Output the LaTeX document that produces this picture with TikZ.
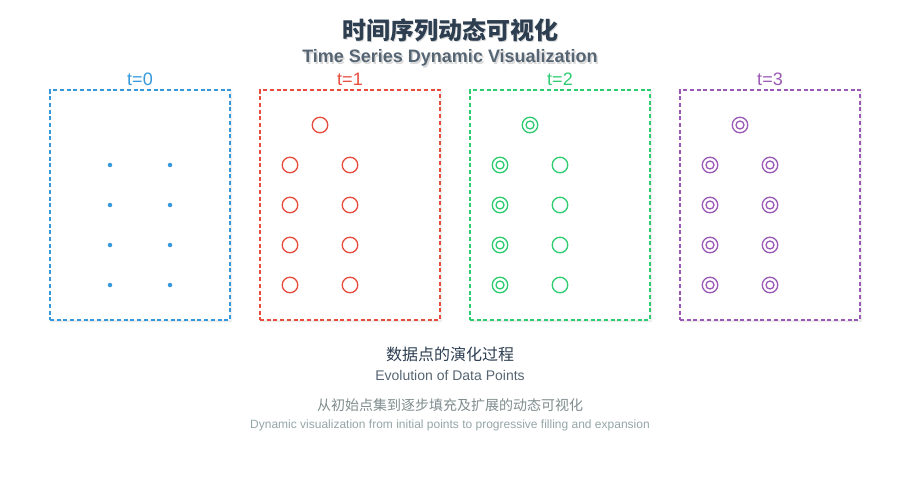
\documentclass[tikz,border=0pt]{standalone}
\usepackage{fontspec}
\setmainfont{Liberation Sans}
\newfontfamily\cjk{Noto Sans CJK SC}
\usetikzlibrary{shadows.blur}
\definecolor{tblue}{HTML}{3498DB}
\definecolor{tred}{HTML}{E74C3C}
\definecolor{tgreen}{HTML}{2ECC71}
\definecolor{tpurple}{HTML}{9B59B6}
\definecolor{ink}{HTML}{2C3E50}
\definecolor{subink}{HTML}{566573}
\definecolor{midgray}{HTML}{7F8C8D}
\definecolor{lightgray}{HTML}{95A5A6}
\begin{document}
\begin{tikzpicture}[x=1pt,y=1pt,
    dring/.style={ring,draw=#1,path picture={\draw[#1,line width=1.3pt] (path picture bounding box.center) circle (4pt);}}]
    \tikzstyle{every node}=[inner sep=0pt,outer sep=0pt];
    \tikzstyle{frame}=[draw,line width=2pt,dash pattern=on 4pt off 2.7pt,minimum width=180pt,minimum height=230pt,fill=white,blur shadow={shadow blur steps=6,shadow xshift=1pt,shadow yshift=-1pt,shadow opacity=12}];
    \tikzstyle{ring}=[draw,shape=circle,line width=1.3pt,minimum size=15.5pt];
    \tikzstyle{dot}=[fill=tblue,shape=circle,minimum size=4.5pt];
    \tikzstyle{tlabel}=[font=\fontsize{18}{18}\selectfont];
    \useasboundingbox (0,0) rectangle (900,-500);
    % title
    \node[text=black!15] at (451.5,-31.5) (titleshadow) {\cjk\bfseries\fontsize{24}{24}\selectfont 时间序列动态可视化};
    \node[text=ink] at (450,-30) (title) {\cjk\bfseries\fontsize{24}{24}\selectfont 时间序列动态可视化};
    \node[text=black!15] at (451.5,-59.5) (subshadow) {\bfseries\fontsize{18}{18}\selectfont Time Series Dynamic Visualization};
    \node[text=subink] at (450,-58) (subtitle) {\bfseries\fontsize{18}{18}\selectfont Time Series Dynamic Visualization};
    % frames
    \node[frame,draw=tblue] at (140,-205) (f0) {};
    \node[frame,draw=tred] at (350,-205) (f1) {};
    \node[frame,draw=tgreen] at (560,-205) (f2) {};
    \node[frame,draw=tpurple] at (770,-205) (f3) {};
    \node[tlabel,text=tblue] at (140,-79) (l0) {t=0};
    \node[tlabel,text=tred] at (350,-79) (l1) {t=1};
    \node[tlabel,text=tgreen] at (560,-79) (l2) {t=2};
    \node[tlabel,text=tpurple] at (770,-79) (l3) {t=3};
    % t=0
    \node[dot] at (110,-165) (a1) {};
    \node[dot] at (170,-165) (a2) {};
    \node[dot] at (110,-205) (a3) {};
    \node[dot] at (170,-205) (a4) {};
    \node[dot] at (110,-245) (a5) {};
    \node[dot] at (170,-245) (a6) {};
    \node[dot] at (110,-285) (a7) {};
    \node[dot] at (170,-285) (a8) {};
    % t=1
    \node[ring,draw=tred] at (320,-125) (b0) {};
    \node[ring,draw=tred] at (290,-165) (b1) {};
    \node[ring,draw=tred] at (350,-165) (b2) {};
    \node[ring,draw=tred] at (290,-205) (b3) {};
    \node[ring,draw=tred] at (350,-205) (b4) {};
    \node[ring,draw=tred] at (290,-245) (b5) {};
    \node[ring,draw=tred] at (350,-245) (b6) {};
    \node[ring,draw=tred] at (290,-285) (b7) {};
    \node[ring,draw=tred] at (350,-285) (b8) {};
    % t=2
    \node[dring=tgreen] at (530,-125) (c0) {};
    \node[dring=tgreen] at (500,-165) (c1) {};
    \node[ring,draw=tgreen] at (560,-165) (c2) {};
    \node[dring=tgreen] at (500,-205) (c3) {};
    \node[ring,draw=tgreen] at (560,-205) (c4) {};
    \node[dring=tgreen] at (500,-245) (c5) {};
    \node[ring,draw=tgreen] at (560,-245) (c6) {};
    \node[dring=tgreen] at (500,-285) (c7) {};
    \node[ring,draw=tgreen] at (560,-285) (c8) {};
    % t=3
    \node[dring=tpurple] at (740,-125) (d0) {};
    \node[dring=tpurple] at (710,-165) (d1) {};
    \node[dring=tpurple] at (770,-165) (d2) {};
    \node[dring=tpurple] at (710,-205) (d3) {};
    \node[dring=tpurple] at (770,-205) (d4) {};
    \node[dring=tpurple] at (710,-245) (d5) {};
    \node[dring=tpurple] at (770,-245) (d6) {};
    \node[dring=tpurple] at (710,-285) (d7) {};
    \node[dring=tpurple] at (770,-285) (d8) {};
    % captions
    \node[text=ink] at (450,-354) (cap1) {\cjk\fontsize{16}{16}\selectfont 数据点的演化过程};
    \node[text=subink] at (450,-375) (cap2) {\fontsize{14}{14}\selectfont Evolution of Data Points};
    \node[text=midgray] at (450,-405) (cap3) {\cjk\fontsize{14}{14}\selectfont 从初始点集到逐步填充及扩展的动态可视化};
    \node[text=lightgray] at (450,-425) (cap4) {\fontsize{12}{12}\selectfont Dynamic visualization from initial points to progressive filling and expansion};
\end{tikzpicture}
\end{document}
